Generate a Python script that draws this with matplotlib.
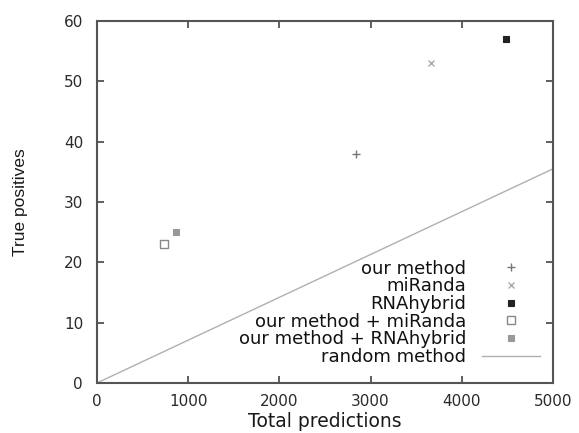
import matplotlib
matplotlib.use("Agg")
import matplotlib.pyplot as plt

plt.rcParams['font.family'] = ['DejaVu Sans']

# Data
series_names = ["our method", "miRanda", "RNAhybrid",
                "our method + miRanda", "our method + RNAhybrid"]
total_predictions = [2840, 3660, 4490, 740, 870]
true_positives = [38, 53, 57, 23, 25]
random_x = [0, 5000]
random_y = [0, 35.5]
x_ticks = [0, 1000, 2000, 3000, 4000, 5000]
y_ticks = [0, 10, 20, 30, 40, 50, 60]

styles = [
    dict(marker="+", color="#777777", markersize=6, markeredgewidth=1.0, fillstyle="full"),
    dict(marker="x", color="#aaaaaa", markersize=5, markeredgewidth=1.0, fillstyle="full"),
    dict(marker="s", color="#222222", markersize=4, markeredgewidth=0.8, fillstyle="full"),
    dict(marker="s", color="#888888", markersize=6, markeredgewidth=1.0, fillstyle="none"),
    dict(marker="s", color="#999999", markersize=5, markeredgewidth=0.8, fillstyle="full"),
]

fig = plt.figure(figsize=(5.79, 4.33), dpi=100)
ax = fig.add_axes([0.1675, 0.1155, 0.7876, 0.836])

handles = []
for name, x, y, st in zip(series_names, total_predictions, true_positives, styles):
    h, = ax.plot([x], [y], linestyle="none", label=name, **st)
    handles.append(h)
hr, = ax.plot(random_x, random_y, color="#b0b0b0", linewidth=1.0, label="random method")
handles.append(hr)

ax.set_xlim(0, 5000)
ax.set_ylim(0, 60)
ax.set_xticks(x_ticks)
ax.set_yticks(y_ticks)
ax.tick_params(direction="in", length=5, width=1.2, top=True, right=True,
               colors="#444444", labelcolor="#2a2a2a", labelsize=11)
ax.tick_params(axis="x", pad=8)
ax.tick_params(axis="y", pad=10)
for s in ax.spines.values():
    s.set_color("#555555")
    s.set_linewidth(1.5)

ax.set_xlabel("Total predictions", fontsize=13.5, color="#1a1a1a", labelpad=2)
ax.set_ylabel("True positives", fontsize=12.5, color="#1a1a1a",
              family="Liberation Sans")
ax.yaxis.set_label_coords(-0.151, 0.5)

leg = ax.legend(handles=handles, loc="lower right", bbox_to_anchor=(0.999, 0.012),
                frameon=False, markerfirst=False, fontsize=13, labelspacing=-0.02,
                handlelength=3.2, handletextpad=0.9, borderpad=0.2)
for t in leg.get_texts():
    t.set_color("#111111")

fig.savefig("out.png", dpi=100)
